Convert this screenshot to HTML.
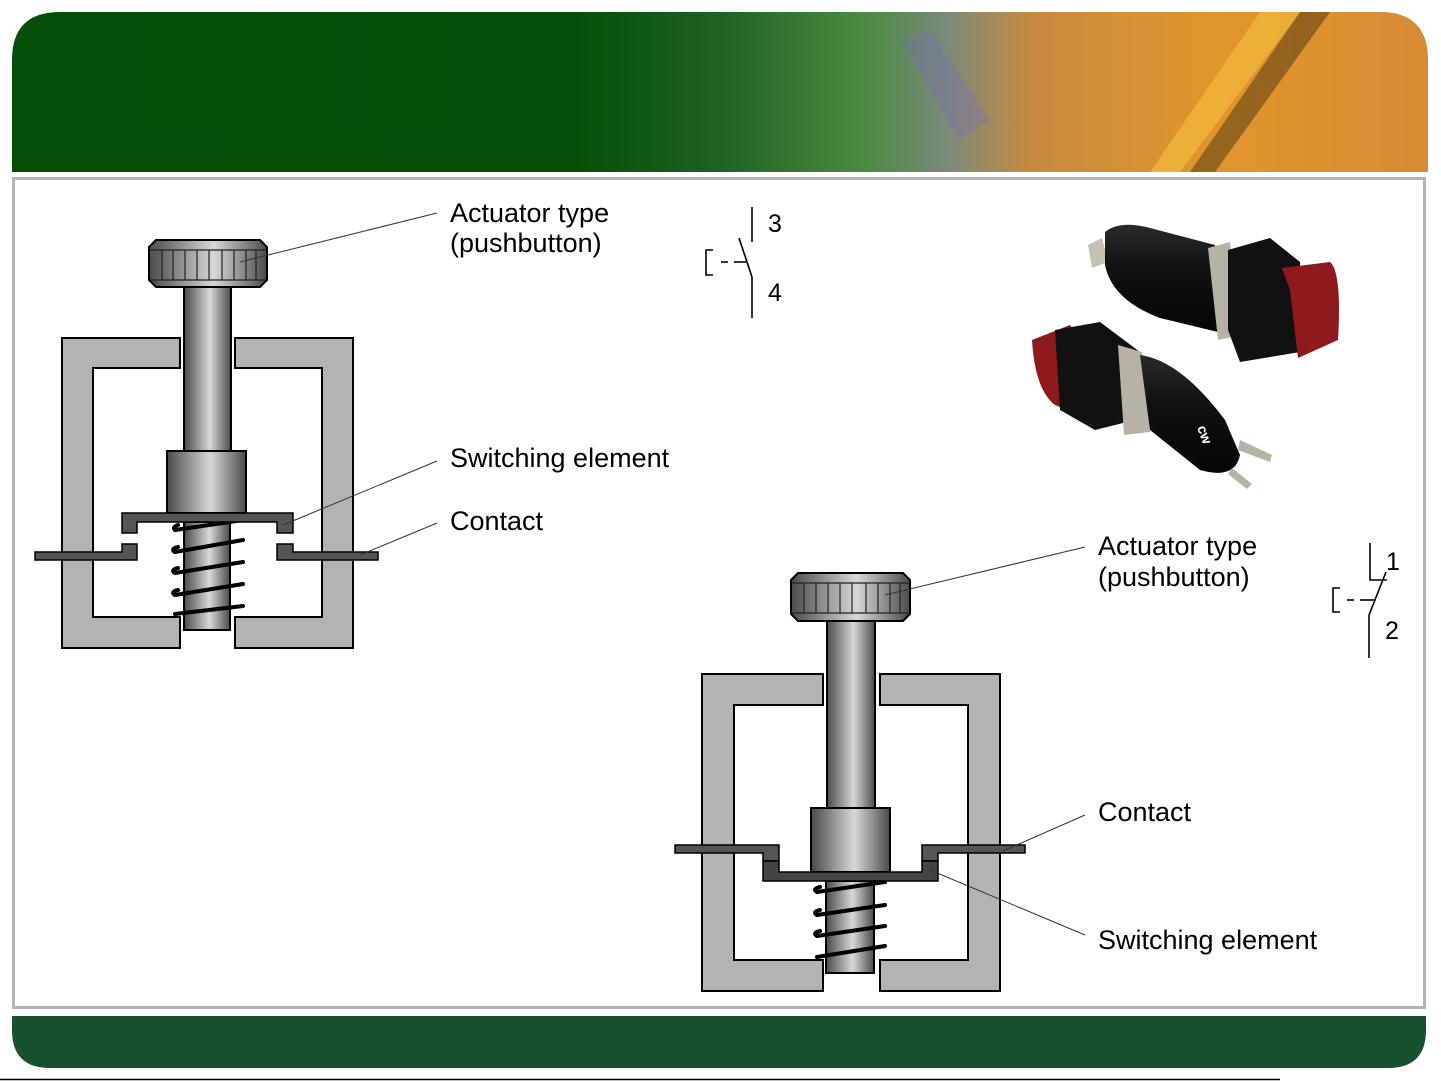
<!DOCTYPE html>
<html><head><meta charset="utf-8"><style>
html,body{margin:0;padding:0;background:#fff;width:1441px;height:1081px;overflow:hidden}
svg{display:block}
text{font-family:"Liberation Sans",sans-serif;fill:#000}
</style></head><body>
<svg width="1441" height="1081" viewBox="0 0 1441 1081" xmlns="http://www.w3.org/2000/svg">
<defs>
<linearGradient id="hdr" x1="0" y1="0" x2="1" y2="0">
<stop offset="0" stop-color="#064f08"/><stop offset="0.4" stop-color="#055008"/>
<stop offset="0.5" stop-color="#1f6222"/><stop offset="0.6" stop-color="#4a8a40"/>
<stop offset="0.66" stop-color="#7a8a7a"/><stop offset="0.72" stop-color="#c88a40"/>
<stop offset="0.85" stop-color="#e0962c"/><stop offset="1" stop-color="#d88a34"/>
</linearGradient>
<linearGradient id="metal" x1="0" y1="0" x2="1" y2="0">
<stop offset="0" stop-color="#4a4a4a"/><stop offset="0.25" stop-color="#8a8a8a"/>
<stop offset="0.55" stop-color="#d8d8d8"/><stop offset="0.8" stop-color="#8a8a8a"/>
<stop offset="1" stop-color="#4a4a4a"/>
</linearGradient>
<linearGradient id="blk" x1="0" y1="0" x2="0" y2="1">
<stop offset="0" stop-color="#2a2a2a"/><stop offset="0.4" stop-color="#111"/><stop offset="1" stop-color="#050505"/>
</linearGradient>
</defs>

<!-- header -->
<path d="M12,172 L12,60 Q12,12 60,12 L1380,12 Q1428,12 1428,60 L1428,172 Z" fill="url(#hdr)"/>
<path d="M1150,172 L1260,12 L1300,12 L1180,172 Z" fill="#f6c040" opacity="0.6"/>
<path d="M1190,172 L1300,12 L1330,12 L1215,172 Z" fill="#3a2a10" opacity="0.45"/>
<path d="M900,40 L960,140 L990,120 L930,30 Z" fill="#7a6ab8" opacity="0.35"/>
<!-- content frame -->
<rect x="13.5" y="178.5" width="1411" height="829" fill="#fff" stroke="#b4b4b4" stroke-width="3"/>
<!-- footer -->
<path d="M12,1016 L1426,1016 L1426,1030 Q1426,1068 1388,1068 L50,1068 Q12,1068 12,1030 Z" fill="#17502f"/>
<line x1="0" y1="1079.5" x2="1280" y2="1079.5" stroke="#000" stroke-width="1.5"/>

<!-- LEFT DIAGRAM -->
<g stroke="#000" stroke-width="2">
<path d="M62,338 H180 V368 H93 V617 H180 V648 H62 Z" fill="#b3b3b3"/>
<path d="M353,338 H235 V368 H322 V617 H235 V648 H353 Z" fill="#b3b3b3"/>
<rect x="184" y="287" width="47" height="164" fill="url(#metal)"/>
<rect x="184" y="522" width="46" height="108" fill="url(#metal)"/>
<rect x="167" y="451" width="79" height="62" fill="url(#metal)"/>
<path d="M156,240 H260 L267,247 V280 L260,287 H156 L149,280 V247 Z" fill="url(#metal)"/>
</g>
<g stroke="#222" stroke-width="1.2">
<line x1="162" y1="250" x2="162" y2="280"/><line x1="173" y1="250" x2="173" y2="280"/><line x1="185" y1="250" x2="185" y2="280"/><line x1="197" y1="250" x2="197" y2="280"/><line x1="209" y1="250" x2="209" y2="280"/><line x1="222" y1="250" x2="222" y2="280"/><line x1="234" y1="250" x2="234" y2="280"/><line x1="246" y1="250" x2="246" y2="280"/><line x1="256" y1="250" x2="256" y2="280"/>
<line x1="150" y1="250" x2="266" y2="250"/><line x1="150" y1="280" x2="266" y2="280"/>
</g>
<g stroke="#000" stroke-width="4" fill="none" stroke-linecap="round">
<path d="M175,530 L243,520"/><path d="M175,552 L243,540"/><path d="M175,573 L243,562"/><path d="M175,595 L243,584"/><path d="M175,614 L243,606"/>
<path d="M175,530 Q172,527 178,525"/><path d="M175,552 Q170,549 178,547"/><path d="M175,573 Q170,570 178,568"/><path d="M175,595 Q170,592 178,590"/>
</g>
<g stroke="#000" stroke-width="1.5" fill="#555">
<path d="M122,513 H293 V533 H277 V522 H137 V533 H122 Z"/>
<path d="M35,552 H122 V544 H137 V560 H35 Z"/>
<path d="M378,552 H293 V544 H277 V560 H378 Z"/>
</g>

<!-- RIGHT DIAGRAM -->
<g stroke="#000" stroke-width="2">
<path d="M702,674 H823 V705 H734 V960 H823 V991 H702 Z" fill="#b3b3b3"/>
<path d="M1000,674 H880 V705 H968 V960 H880 V991 H1000 Z" fill="#b3b3b3"/>
<rect x="827" y="621" width="48" height="188" fill="url(#metal)"/>
<rect x="826" y="881" width="48" height="92" fill="url(#metal)"/>
<rect x="811" y="808" width="79" height="64" fill="url(#metal)"/>
<path d="M798,573 H903 L910,580 V614 L903,621 H798 L791,614 V580 Z" fill="url(#metal)"/>
</g>
<g stroke="#222" stroke-width="1.2">
<line x1="804" y1="583" x2="804" y2="613"/><line x1="816" y1="583" x2="816" y2="613"/><line x1="828" y1="583" x2="828" y2="613"/><line x1="840" y1="583" x2="840" y2="613"/><line x1="852" y1="583" x2="852" y2="613"/><line x1="866" y1="583" x2="866" y2="613"/><line x1="878" y1="583" x2="878" y2="613"/><line x1="890" y1="583" x2="890" y2="613"/><line x1="900" y1="583" x2="900" y2="613"/>
<line x1="792" y1="583" x2="909" y2="583"/><line x1="792" y1="613" x2="909" y2="613"/>
</g>
<g stroke="#000" stroke-width="4" fill="none" stroke-linecap="round">
<path d="M817,892 L885,882"/><path d="M817,915 L885,905"/><path d="M817,936 L885,926"/><path d="M817,957 L885,946"/>
<path d="M817,892 Q812,889 820,887"/><path d="M817,915 Q812,912 820,910"/><path d="M817,936 Q812,933 820,931"/>
</g>
<g stroke="#000" stroke-width="1.5" fill="#555">
<path d="M675,845 H779 V861 H763 V853 H675 Z"/>
<path d="M1025,845 H922 V861 H938 V853 H1025 Z"/>
<path d="M763,861 H779 V872 H922 V861 H938 V881 H763 Z" fill="#444"/>
</g>

<!-- leader lines -->
<g stroke="#333" stroke-width="1" fill="none">
<line x1="437" y1="213" x2="240" y2="262"/>
<line x1="437" y1="461" x2="283" y2="525"/>
<line x1="437" y1="523" x2="360" y2="555"/>
<line x1="1085" y1="547" x2="885" y2="595"/>
<line x1="1085" y1="815" x2="1003" y2="851"/>
<line x1="1085" y1="935" x2="930" y2="870"/>
</g>

<!-- labels -->
<g font-size="27">
<text x="450" y="222">Actuator type</text>
<text x="450" y="252">(pushbutton)</text>
<text x="450" y="467">Switching element</text>
<text x="450" y="530">Contact</text>
<text x="1098" y="555">Actuator type</text>
<text x="1098" y="586">(pushbutton)</text>
<text x="1098" y="821">Contact</text>
<text x="1098" y="949">Switching element</text>
</g>

<!-- NO symbol -->
<g stroke="#000" stroke-width="1.6" fill="none">
<line x1="752" y1="207" x2="752" y2="242"/>
<line x1="739" y1="238" x2="752" y2="277"/>
<line x1="752" y1="277" x2="752" y2="318"/>
<line x1="721" y1="262" x2="728" y2="262"/><line x1="734" y1="262" x2="746" y2="262"/>
<path d="M713,250 H706 V275 H713"/>
</g>
<text x="768" y="232" font-size="25">3</text>
<text x="768" y="301" font-size="25">4</text>
<!-- NC symbol -->
<g stroke="#000" stroke-width="1.6" fill="none">
<path d="M1370,543 V580 H1387"/>
<line x1="1386" y1="572" x2="1369" y2="615"/>
<line x1="1369" y1="615" x2="1369" y2="658"/>
<line x1="1347" y1="600" x2="1354" y2="600"/><line x1="1360" y1="600" x2="1376" y2="600"/>
<path d="M1340,588 H1333 V612 H1340"/>
</g>
<text x="1386" y="570" font-size="25">1</text>
<text x="1385" y="639" font-size="25">2</text>

<!-- photo of pushbuttons (approximation) -->
<g>
<path d="M1088,245 L1102,238 L1108,262 L1092,268 Z" fill="#c8c0b0"/>
<path d="M1105,232 Q1120,220 1150,228 L1215,245 L1218,332 L1160,318 Q1112,300 1105,265 Z" fill="url(#blk)"/>
<path d="M1208,248 L1230,242 L1240,335 L1218,340 Z" fill="#b8b2a6"/>
<path d="M1228,250 L1270,238 L1300,262 L1300,352 L1240,362 L1228,330 Z" fill="#111"/>
<path d="M1282,268 L1330,262 Q1342,272 1338,340 L1298,358 L1290,290 Z" fill="#8e1a1e"/>
<path d="M1032,340 L1070,325 L1095,360 L1090,420 L1055,405 Q1035,390 1032,340 Z" fill="#8e1a1e"/>
<path d="M1055,330 L1100,322 L1140,352 L1135,420 L1095,430 L1060,410 Z" fill="#111"/>
<path d="M1118,345 L1142,352 L1150,432 L1124,435 Z" fill="#b8b2a6"/>
<path d="M1140,355 Q1180,360 1225,420 L1240,455 Q1235,480 1200,470 L1150,430 Z" fill="url(#blk)"/>
<path d="M1240,440 L1272,455 L1270,462 L1238,450 Z" fill="#b8b2a6"/>
<path d="M1232,468 L1252,484 L1247,489 L1228,474 Z" fill="#b8b2a6"/>
<text x="1198" y="438" font-size="14" font-weight="bold" style="fill:#fff" transform="rotate(70 1205 432)">cw</text>
</g>
</svg>
</body></html>
